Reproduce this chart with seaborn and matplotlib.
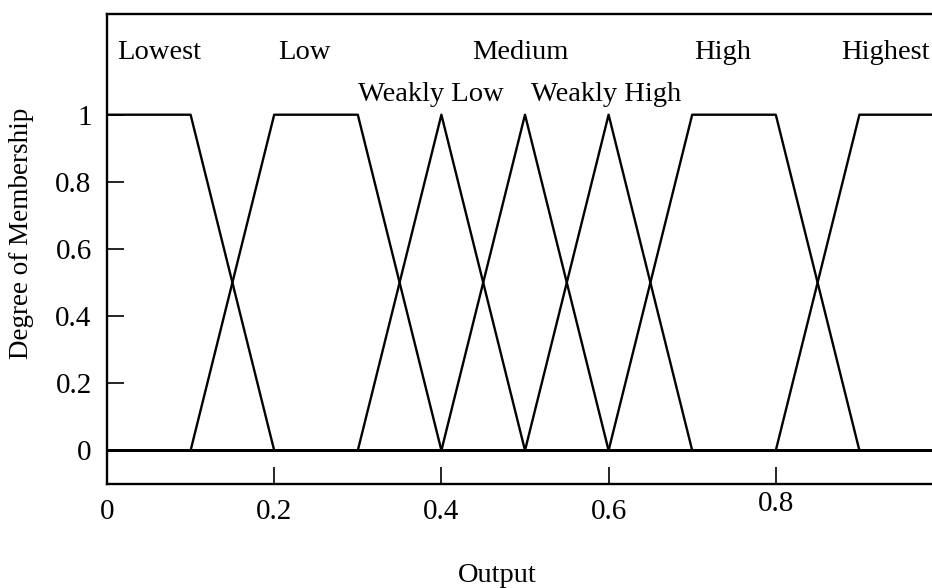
import numpy as np
import pandas as pd
import matplotlib
matplotlib.use("Agg")
import matplotlib.pyplot as plt
import seaborn as sns

# Fuzzy output terms and the breakpoints of their membership functions
terms = ["Lowest", "Low", "Weakly Low", "Medium", "Weakly High", "High", "Highest"]
term_x = [
    [0.0, 0.1, 0.2, 1.0],
    [0.0, 0.1, 0.2, 0.3, 0.4, 1.0],
    [0.0, 0.3, 0.4, 0.5, 1.0],
    [0.0, 0.4, 0.5, 0.6, 1.0],
    [0.0, 0.5, 0.6, 0.7, 1.0],
    [0.0, 0.6, 0.7, 0.8, 0.9, 1.0],
    [0.0, 0.8, 0.9, 1.0],
]
term_mu = [
    [1, 1, 0, 0],
    [0, 0, 1, 1, 0, 0],
    [0, 0, 1, 0, 0],
    [0, 0, 1, 0, 0],
    [0, 0, 1, 0, 0],
    [0, 0, 1, 1, 0, 0],
    [0, 0, 1, 1],
]

# Where each term name is written
label_x = [0.012, 0.236, 0.388, 0.495, 0.597, 0.737, 0.931]
label_y = [1.185, 1.185, 1.06, 1.185, 1.06, 1.185, 1.185]
label_ha = ["left", "center", "center", "center", "center", "center", "center"]

x_ticks = [0, 0.2, 0.4, 0.6, 0.8]
x_tick_labels = ["0", "0.2", "0.4", "0.6", "0.8"]
y_ticks = [0, 0.2, 0.4, 0.6, 0.8, 1]
y_tick_labels = ["0", "0.2", "0.4", "0.6", "0.8", "1"]

rows = []
for name, xs, ms in zip(terms, term_x, term_mu):
    for i, (xv, mv) in enumerate(zip(xs, ms)):
        rows.append({"term": name, "order": i, "x": xv, "mu": mv})
df = pd.DataFrame(rows)

sns.set_theme(style="white")
plt.rcParams["font.family"] = ["Liberation Serif", "DejaVu Serif"]
plt.rcParams["text.color"] = "black"
plt.rcParams["axes.labelcolor"] = "black"

fig = plt.figure(figsize=(9.32, 5.88), dpi=100)
ax = fig.add_axes([107 / 932, 104 / 588, 836 / 932, 470 / 588])

for name in terms:
    sub = df[df["term"] == name].sort_values("order")
    sns.lineplot(data=sub, x="x", y="mu", ax=ax, color="black", linewidth=1.7,
                 estimator=None, sort=False, legend=False)

for name, lx, ly, ha in zip(terms, label_x, label_y, label_ha):
    ax.text(lx, ly, name, ha=ha, va="center", fontsize=20.5, color="black")

ax.set_xlim(0, 1.0)
ax.set_ylim(-0.1, 1.3)

ax.set_xticks(x_ticks)
ax.set_xticklabels(x_tick_labels)
ax.set_yticks(y_ticks)
ax.set_yticklabels(y_tick_labels)
ax.tick_params(axis="both", direction="in", length=12, width=1.2, color="black",
               labelsize=21, labelcolor="black", pad=11)
ax.tick_params(axis="x", bottom=True)
ax.tick_params(axis="y", left=True)
# the 0.8 label sits a little higher than the others
for lab in ax.get_xticklabels():
    if lab.get_text() == "0.8":
        lab.set_transform(lab.get_transform() + matplotlib.transforms.ScaledTranslation(0, 6 / 72, fig.dpi_scale_trans))

ax.set_xlabel("")
ax.set_ylabel("")
for side in ["left", "top", "bottom", "right"]:
    ax.spines[side].set_color("black")
    ax.spines[side].set_linewidth(1.7)

fig.text(22 / 932, 1 - 233 / 588, "Degree of Membership", rotation=90,
         ha="center", va="center", fontsize=19.5, color="black")
fig.text(497 / 932, 1 - 575 / 588, "Output", ha="center", va="center",
         fontsize=20.5, color="black")

fig.savefig("out.png", dpi=100, facecolor="white")
